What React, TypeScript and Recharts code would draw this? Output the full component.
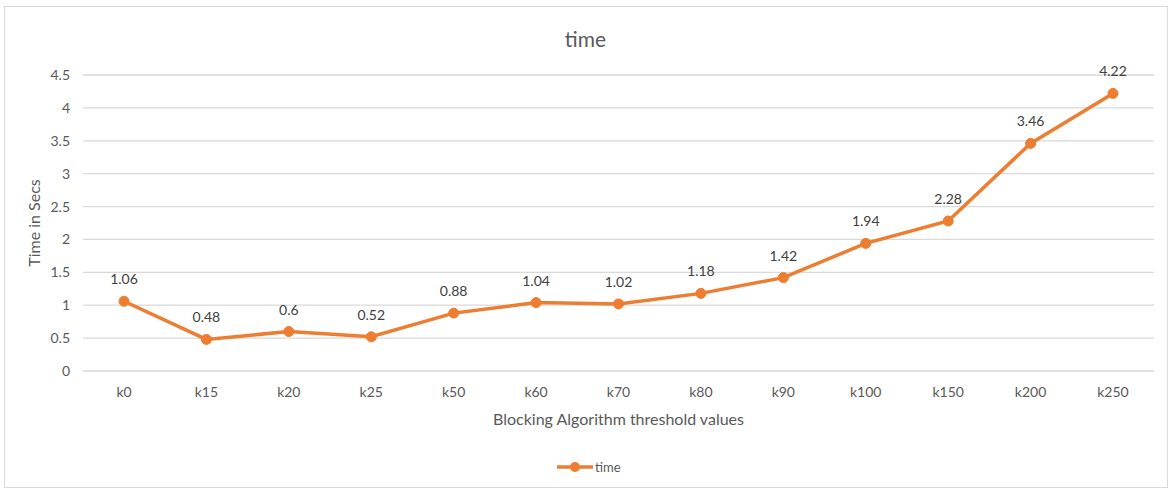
import React from "react";
import {
  LineChart,
  Line,
  XAxis,
  YAxis,
  CartesianGrid,
  Label,
  LabelList,
  Legend,
} from "recharts";

const thresholds = [
  "k0", "k15", "k20", "k25", "k50", "k60", "k70",
  "k80", "k90", "k100", "k150", "k200", "k250",
];
const times = [1.06, 0.48, 0.6, 0.52, 0.88, 1.04, 1.02, 1.18, 1.42, 1.94, 2.28, 3.46, 4.22];
const yTicks = [0, 0.5, 1, 1.5, 2, 2.5, 3, 3.5, 4, 4.5];

const ORANGE = "#ED7D31";
const FONT = "Lato, 'Open Sans', sans-serif";

const data = thresholds.map((k, i) => ({ name: k, time: times[i] }));

// single-entry legend: short line with a dot in the middle, then the series name
const LegendBox = () => (
  <svg width={80} height={20}>
    <line x1={4} y1={10} x2={40} y2={10} stroke={ORANGE} strokeWidth={3.5} />
    <circle cx={22} cy={10} r={5} fill={ORANGE} />
    <text x={42} y={15} fontSize={13} fill="#595959" fontFamily={FONT}>
      time
    </text>
  </svg>
);

const App = () => {
  return (
    <div
      style={{
        position: "absolute",
        left: 0,
        top: 0,
        width: 1171,
        height: 491,
        background: "#fff",
        fontFamily: FONT,
      }}
    >
      <div
        style={{
          position: "absolute",
          left: 4,
          top: 6,
          width: 1164,
          height: 482,
          border: "1px solid #d9d9d9",
          boxSizing: "border-box",
        }}
      />
      <div
        style={{
          position: "absolute",
          left: 0,
          width: 1171,
          top: 26,
          textAlign: "center",
          fontSize: 21,
          color: "#595959",
        }}
      >
        time
      </div>
      <LineChart
        width={1171}
        height={491}
        data={data}
        margin={{ top: 75, right: 17, left: 0, bottom: 60 }}
      >
        <CartesianGrid vertical={false} stroke="#d9d9d9" strokeWidth={1.3} />
        <XAxis
          dataKey="name"
          height={60}
          padding={{ left: 41, right: 41 }}
          axisLine={false}
          tickLine={false}
          tickMargin={10}
          tick={{ fill: "#595959", fontSize: 14, fontFamily: FONT }}
        >
          <Label
            value="Blocking Algorithm threshold values"
            position="insideBottom"
            offset={6}
            style={{ fill: "#595959", fontSize: 16, fontFamily: FONT }}
          />
        </XAxis>
        <YAxis
          width={83}
          domain={[0, 4.5]}
          ticks={yTicks}
          axisLine={false}
          tickLine={false}
          tickMargin={7}
          tick={{ fill: "#595959", fontSize: 14, fontFamily: FONT }}
        >
          <Label
            value="Time in Secs"
            angle={-90}
            position="insideLeft"
            offset={34}
            style={{ fill: "#595959", fontSize: 16, fontFamily: FONT, textAnchor: "middle" }}
          />
        </YAxis>
        <Legend
          layout="horizontal"
          verticalAlign="middle"
          align="center"
          content={LegendBox}
          wrapperStyle={{ top: 457, left: 553, width: 80, height: 20 }}
        />
        <Line
          dataKey="time"
          stroke={ORANGE}
          strokeWidth={3.5}
          dot={{ r: 5, fill: ORANGE, stroke: ORANGE, strokeWidth: 1 }}
          activeDot={false}
          isAnimationActive={false}
        >
          <LabelList
            dataKey="time"
            position="top"
            offset={17}
            style={{ fill: "#404040", fontSize: 14, fontFamily: FONT }}
          />
        </Line>
      </LineChart>
    </div>
  );
};

export default App;
